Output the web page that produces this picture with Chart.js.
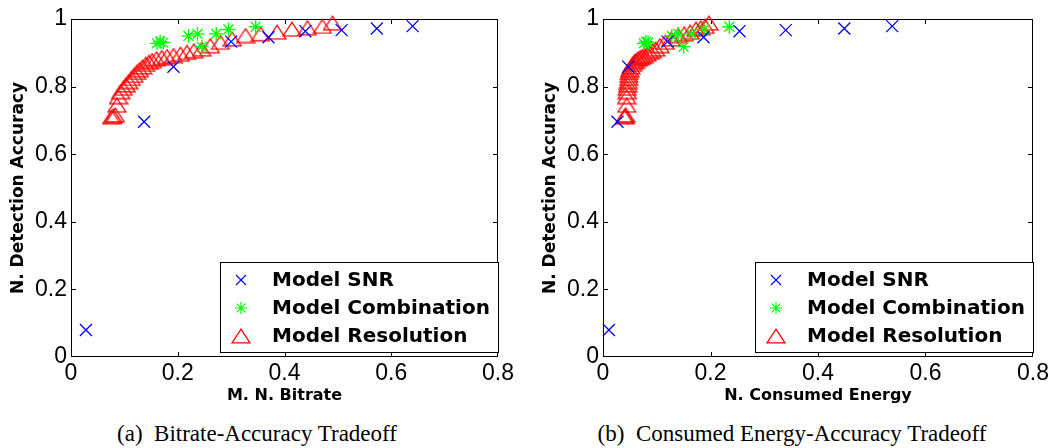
<!DOCTYPE html>
<html>
<head>
<meta charset="utf-8">
<style>
  body { margin: 0; background: #fff; width: 1055px; height: 448px; overflow: hidden; position: relative; }
  .box { position: absolute; top: 0; height: 405px; }
  .cap { position: absolute; top: 421px; font-family: "Liberation Serif", "Times New Roman", serif; font-size: 23px; white-space: pre; transform: translateX(-50%); color: #000; }
</style>
<script src="https://cdn.jsdelivr.net/npm/chart.js"></script>
</head>
<body>
<div class="box" style="left:0; width:520px;"><canvas id="chartA"></canvas></div>
<div class="box" style="left:532px; width:523px;"><canvas id="chartB"></canvas></div>
<div class="cap" style="left:257px;">(a)  Bitrate-Accuracy Tradeoff</div>
<div class="cap" style="left:792px;">(b)  Consumed Energy-Accuracy Tradeoff</div>

<script>
  // Model SNR
  const snrAccuracy = [0.080, 0.696, 0.859, 0.933, 0.946, 0.964, 0.967, 0.972, 0.979];
  const snrBitrate  = [0.028, 0.137, 0.192, 0.300, 0.370, 0.439, 0.507, 0.573, 0.640];
  const snrEnergy   = [0.011, 0.027, 0.047, 0.120, 0.187, 0.254, 0.340, 0.449, 0.538];

  // Model Combination
  const combAccuracy = [0.928, 0.933, 0.930, 0.950, 0.956, 0.918, 0.956, 0.969, 0.977];
  const combBitrate  = [0.161, 0.167, 0.173, 0.220, 0.237, 0.245, 0.272, 0.295, 0.346];
  const combEnergy   = [0.076, 0.080, 0.084, 0.128, 0.140, 0.150, 0.165, 0.188, 0.235];

  // Model Resolution
  const resAccuracy = [0.710, 0.713, 0.716, 0.745, 0.770, 0.785, 0.795, 0.805, 0.815, 0.824, 0.833, 0.842,
                       0.850, 0.858, 0.866, 0.872, 0.877, 0.882, 0.886, 0.889, 0.892, 0.896, 0.901, 0.906,
                       0.911, 0.921, 0.931, 0.941, 0.951, 0.956, 0.961, 0.970, 0.974, 0.978, 0.988];
  const resBitrate  = [0.076, 0.079, 0.083, 0.086, 0.089, 0.093, 0.098, 0.103, 0.108, 0.113, 0.118, 0.123,
                       0.128, 0.134, 0.140, 0.146, 0.152, 0.160, 0.170, 0.180, 0.192, 0.205, 0.217, 0.230,
                       0.245, 0.261, 0.280, 0.302, 0.327, 0.355, 0.386, 0.414, 0.443, 0.471, 0.490];
  const resEnergy   = [0.040, 0.041, 0.042, 0.044, 0.044, 0.045, 0.045, 0.046, 0.047, 0.048, 0.048, 0.049,
                       0.050, 0.052, 0.055, 0.058, 0.061, 0.065, 0.069, 0.073, 0.077, 0.082, 0.087, 0.092,
                       0.098, 0.106, 0.116, 0.127, 0.140, 0.151, 0.162, 0.173, 0.182, 0.190, 0.197];

  const seriesNames = ['Model SNR', 'Model Combination', 'Model Resolution'];
  const xTicks = [0, 0.2, 0.4, 0.6, 0.8];
  const yTicks = [0, 0.2, 0.4, 0.6, 0.8, 1];

  const BLUE = '#0000ff', GREEN = '#00ff00', RED = '#ff0000';
  const BOLD = '"DejaVu Sans", "Liberation Sans", Arial, sans-serif';
  const PLAIN = '"Liberation Sans", Arial, sans-serif';

  // matlab style '^' marker: wider than tall
  const triImg = document.createElement('canvas');
  triImg.width = 20; triImg.height = 16;
  (function () {
    const t = triImg.getContext('2d');
    t.strokeStyle = RED; t.lineWidth = 1.3;
    t.beginPath(); t.moveTo(10, 1.2); t.lineTo(19, 14.8); t.lineTo(1, 14.8); t.closePath(); t.stroke();
  })();

  const pts = (xs, ys) => xs.map((x, i) => ({ x: x, y: ys[i] }));
  const fmt = v => String(+Number(v).toFixed(1));

  // box with inward ticks on all four sides
  const framePlugin = {
    id: 'frame',
    beforeDatasetsDraw(chart) {
      const { ctx, chartArea: a, scales } = chart;
      ctx.save();
      ctx.strokeStyle = '#000'; ctx.lineWidth = 1;
      ctx.strokeRect(a.left + 0.5, a.top + 0.5, a.right - a.left - 1, a.bottom - a.top - 1);
      ctx.beginPath();
      xTicks.slice(1, -1).forEach(v => {
        const px = Math.round(scales.x.getPixelForValue(v)) + 0.5;
        ctx.moveTo(px, a.bottom); ctx.lineTo(px, a.bottom - 5);
        ctx.moveTo(px, a.top); ctx.lineTo(px, a.top + 5);
      });
      yTicks.slice(1, -1).forEach(v => {
        const py = Math.round(scales.y.getPixelForValue(v)) + 0.5;
        ctx.moveTo(a.left, py); ctx.lineTo(a.left + 5, py);
        ctx.moveTo(a.right, py); ctx.lineTo(a.right - 5, py);
      });
      ctx.stroke();
      ctx.restore();
    }
  };

  // legend box in the lower right corner of the plot
  const boxLegend = {
    id: 'boxLegend',
    afterDatasetsDraw(chart) {
      const { ctx, chartArea: a } = chart;
      const w = 278, h = 90;
      const left = a.right - w, top = a.bottom - 95;
      ctx.save();
      ctx.fillStyle = '#fff';
      ctx.fillRect(left, top, w, h);
      ctx.strokeStyle = '#000'; ctx.lineWidth = 1;
      ctx.strokeRect(left + 0.5, top + 0.5, w, h);
      const mx = left + 21;
      const rows = [top + 18, top + 46, top + 74];
      // x
      ctx.strokeStyle = BLUE; ctx.lineWidth = 1.2;
      ctx.beginPath();
      ctx.moveTo(mx - 5, rows[0] - 5); ctx.lineTo(mx + 5, rows[0] + 5);
      ctx.moveTo(mx - 5, rows[0] + 5); ctx.lineTo(mx + 5, rows[0] - 5);
      ctx.stroke();
      // *
      ctx.strokeStyle = GREEN;
      ctx.beginPath();
      ctx.moveTo(mx - 6, rows[1]); ctx.lineTo(mx + 6, rows[1]);
      ctx.moveTo(mx, rows[1] - 6); ctx.lineTo(mx, rows[1] + 6);
      ctx.moveTo(mx - 4.3, rows[1] - 4.3); ctx.lineTo(mx + 4.3, rows[1] + 4.3);
      ctx.moveTo(mx - 4.3, rows[1] + 4.3); ctx.lineTo(mx + 4.3, rows[1] - 4.3);
      ctx.stroke();
      // ^
      ctx.drawImage(triImg, mx - 10, rows[2] - 8);
      ctx.fillStyle = '#000';
      ctx.font = 'bold 20px ' + BOLD;
      ctx.textBaseline = 'middle';
      seriesNames.forEach((n, i) => ctx.fillText(n, left + 52, rows[i] + 1));
      ctx.restore();
    }
  };

  function makeChart(id, xTitle, snrX, combX, resX) {
    return new Chart(document.getElementById(id), {
      type: 'scatter',
      data: {
        datasets: [
          { label: seriesNames[0], data: pts(snrX, snrAccuracy), pointStyle: 'crossRot', radius: 8.5,
            borderColor: BLUE, backgroundColor: BLUE, borderWidth: 1.3, clip: false },
          { label: seriesNames[1], data: pts(combX, combAccuracy), pointStyle: 'star', radius: 7,
            borderColor: GREEN, backgroundColor: GREEN, borderWidth: 1.3, clip: false },
          { label: seriesNames[2], data: pts(resX, resAccuracy), pointStyle: triImg, radius: 10,
            borderColor: RED, backgroundColor: RED, clip: false }
        ]
      },
      options: {
        responsive: true,
        maintainAspectRatio: false,
        animation: false,
        layout: { padding: { top: 19, right: 22, left: 0, bottom: 0 } },
        plugins: { legend: { display: false }, tooltip: { enabled: false } },
        scales: {
          x: {
            type: 'linear', min: 0, max: 0.8,
            grid: { display: false, drawTicks: false },
            border: { display: false },
            afterBuildTicks: s => { s.ticks = xTicks.map(v => ({ value: v })); },
            afterFit: s => { s.height = 48; },
            ticks: { color: '#000', padding: 3, callback: fmt, font: { family: PLAIN, size: 23 } },
            title: { display: true, text: xTitle, color: '#000', padding: 0,
                     font: { family: BOLD, size: 16, weight: 'bold' } }
          },
          y: {
            type: 'linear', min: 0, max: 1,
            grid: { display: false, drawTicks: false },
            border: { display: false },
            afterBuildTicks: s => { s.ticks = yTicks.map(v => ({ value: v })); },
            afterFit: s => { s.width = 71; },
            ticks: { color: '#000', padding: 4, callback: fmt, font: { family: PLAIN, size: 23 } },
            title: { display: true, text: 'N. Detection Accuracy', color: '#000', padding: { top: 8, bottom: 0 },
                     font: { family: BOLD, size: 17, weight: 'bold' } }
          }
        }
      },
      plugins: [framePlugin, boxLegend]
    });
  }

  makeChart('chartA', 'M. N. Bitrate', snrBitrate, combBitrate, resBitrate);
  makeChart('chartB', 'N. Consumed Energy', snrEnergy, combEnergy, resEnergy);
</script>
</body>
</html>
